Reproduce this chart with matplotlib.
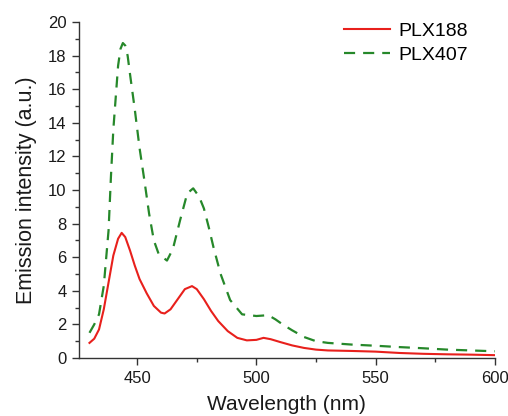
import matplotlib
matplotlib.use('Agg')
import matplotlib.pyplot as plt
from matplotlib.ticker import MultipleLocator

# Wavelength (nm) and emission intensity (a.u.)
wl_188 = [430, 432, 434, 436, 438, 440, 442, 443.5, 445, 447, 449, 451, 454, 457,
          460, 461.5, 464, 467, 470, 473, 475, 478, 481, 484, 488, 492, 496, 500,
          503, 506, 510, 515, 520, 525, 530, 540, 550, 560, 570, 580, 590, 600]
plx188 = [0.9, 1.15, 1.7, 2.9, 4.5, 6.1, 7.1, 7.45, 7.2, 6.4, 5.5, 4.7, 3.85, 3.1,
          2.7, 2.65, 2.9, 3.5, 4.1, 4.28, 4.1, 3.5, 2.8, 2.2, 1.6, 1.2, 1.05, 1.08,
          1.2, 1.12, 0.95, 0.75, 0.6, 0.5, 0.45, 0.42, 0.38, 0.3, 0.25, 0.22, 0.2, 0.17]

wl_407 = [430, 432, 434, 436, 438, 439, 440, 442, 443, 444, 445, 446, 447, 449, 451,
          453, 455, 457, 459, 462.5, 465, 468, 471, 473.5, 476, 478, 480, 482, 485, 489,
          494, 500, 505, 508, 511, 515, 520, 525, 530, 540, 550, 560, 570, 580, 590, 600]
plx407 = [1.5, 2.0, 2.6, 4.3, 7.6, 10.8, 13.6, 17.4, 18.4, 18.75, 18.6, 18.0, 16.9, 14.8,
          12.5, 10.6, 8.6, 7.0, 6.2, 5.8, 6.5, 8.2, 9.8, 10.1, 9.6, 8.9, 7.8, 6.6, 5.0,
          3.45, 2.6, 2.5, 2.55, 2.3, 2.0, 1.65, 1.25, 1.0, 0.9, 0.8, 0.73, 0.65, 0.58,
          0.5, 0.45, 0.4]

plt.rcParams['font.family'] = ['Liberation Sans', 'DejaVu Sans']

fig = plt.figure(figsize=(5.08, 4.16), dpi=100)
ax = fig.add_axes([0.1555, 0.1394, 0.974 - 0.1555, 0.947 - 0.1394])

ax.plot(wl_188, plx188, color='#e8201c', lw=1.5, label='PLX188')
ax.plot(wl_407, plx407, color='#26882a', lw=1.6, ls=(0, (5, 3.6)), label='PLX407')

ax.set_xlim(425.6, 600)
ax.set_ylim(0, 20)
ax.xaxis.set_major_locator(MultipleLocator(50))
ax.xaxis.set_minor_locator(MultipleLocator(25))
ax.yaxis.set_major_locator(MultipleLocator(2))
ax.yaxis.set_minor_locator(MultipleLocator(1))

for side in ('top', 'right'):
    ax.spines[side].set_visible(False)
for side in ('left', 'bottom'):
    ax.spines[side].set_color('#333333')
    ax.spines[side].set_linewidth(1.0)

ax.tick_params(which='major', direction='out', length=5, width=1.0,
               colors='#333333', labelsize=12, labelcolor='#1a1a1a', pad=4)
ax.tick_params(which='minor', direction='out', length=3, width=1.0, colors='#333333')

ax.set_xlabel('Wavelength (nm)', fontsize=15, color='#1a1a1a', labelpad=7)
ax.set_ylabel('Emission intensity (a.u.)', fontsize=15.5, color='#1a1a1a', labelpad=8)

fig.legend(loc='center left', frameon=False, fontsize=14, handlelength=2.37,
           handletextpad=0.41, borderpad=0.0, borderaxespad=0.0,
           bbox_to_anchor=(344 / 508, 1 - 43.2 / 416), labelspacing=0.3)

fig.savefig('out.png', dpi=100)
